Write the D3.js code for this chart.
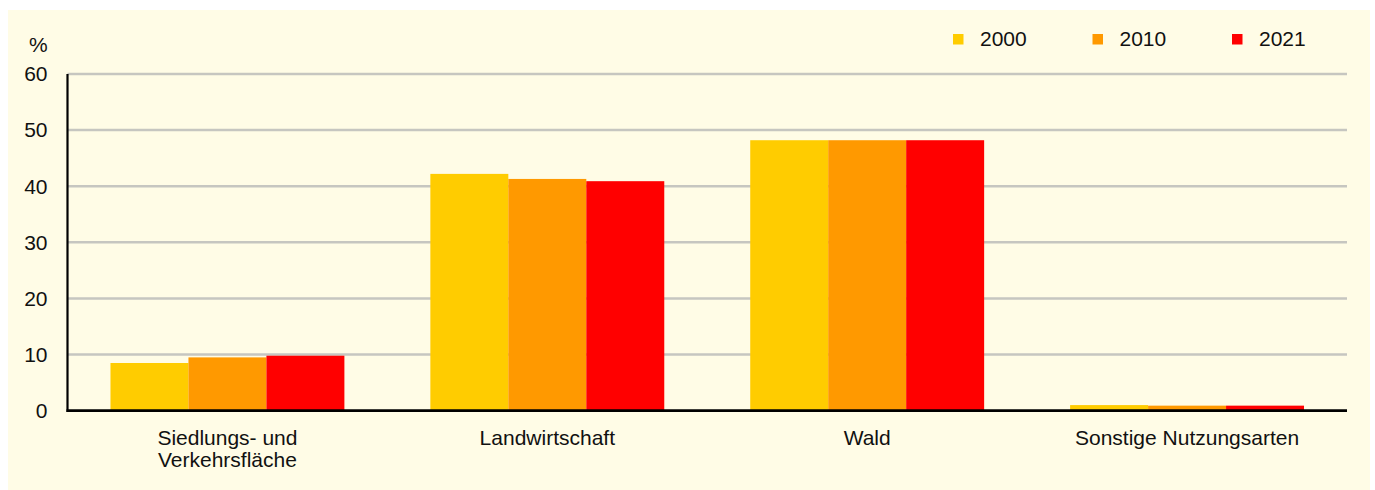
<!DOCTYPE html>
<html>
<head>
    <meta charset="utf-8">
    <script src="https://d3js.org/d3.v7.min.js"></script>
    <style>
        body { margin: 0; background: #ffffff; font-family: "Liberation Sans", Arial, Helvetica, sans-serif; }
        svg text { fill: #111; }
        .grid line { stroke: #c6c6c0; stroke-width: 2.5px; }
    </style>
</head>
<body>
    <svg width="1375" height="490"></svg>
    <script>
        // Data
        let categories = [["Siedlungs- und", "Verkehrsfläche"], ["Landwirtschaft"], ["Wald"], ["Sonstige Nutzungsarten"]];
        let years = ["2000", "2010", "2021"];
        let colors = ["#ffcc00", "#ff9900", "#ff0000"];
        let values2000 = [8.5, 42.2, 48.2, 1.0];
        let values2010 = [9.5, 41.3, 48.2, 0.9];
        let values2021 = [9.8, 40.9, 48.2, 0.9];
        let yTicks = [0, 10, 20, 30, 40, 50, 60];

        let series = [values2000, values2010, values2021];

        let svg = d3.select("svg");
        let plotLeft = 67.5, plotRight = 1347, plotTop = 74, plotBottom = 410.7;

        // background panel
        svg.append("rect")
            .attr("x", 8).attr("y", 10)
            .attr("width", 1362).attr("height", 480)
            .attr("fill", "#fffce6");

        let x0 = d3.scaleBand()
            .domain(d3.range(categories.length))
            .range([plotLeft, plotRight])
            .paddingInner(86 / 320)
            .paddingOuter(43 / 320);
        let x1 = d3.scaleBand()
            .domain(d3.range(years.length))
            .range([0, x0.bandwidth()]);
        let y = d3.scaleLinear().domain([0, 60]).range([plotBottom, plotTop]);

        // gridlines
        svg.append("g").attr("class", "grid")
            .selectAll("line")
            .data(yTicks.filter(d => d > 0))
            .enter().append("line")
            .attr("x1", plotLeft).attr("x2", plotRight)
            .attr("y1", d => y(d)).attr("y2", d => y(d));

        // bars
        series.forEach((vals, s) => {
            svg.append("g").selectAll("rect")
                .data(vals)
                .enter().append("rect")
                .attr("x", (d, i) => x0(i) + x1(s))
                .attr("y", d => y(d))
                .attr("width", x1.bandwidth())
                .attr("height", d => plotBottom - y(d))
                .attr("fill", colors[s]);
        });

        // axes
        svg.append("line")
            .attr("x1", plotLeft).attr("x2", plotLeft)
            .attr("y1", plotTop).attr("y2", plotBottom + 1.3)
            .attr("stroke", "#000").attr("stroke-width", 2.2);
        svg.append("line")
            .attr("x1", plotLeft - 1).attr("x2", plotRight)
            .attr("y1", plotBottom).attr("y2", plotBottom)
            .attr("stroke", "#000").attr("stroke-width", 2.7);

        // y tick labels
        svg.append("g").selectAll("text")
            .data(yTicks)
            .enter().append("text")
            .attr("x", 47.5)
            .attr("y", d => y(d))
            .attr("dy", "0.35em")
            .attr("text-anchor", "end")
            .attr("font-size", 21)
            .text(d => d);

        svg.append("text")
            .attr("x", 29).attr("y", 52)
            .attr("font-size", 21)
            .text("%");

        // category labels
        categories.forEach((lines, i) => {
            let t = svg.append("text")
                .attr("x", x0(i) + x0.bandwidth() / 2)
                .attr("y", 445)
                .attr("text-anchor", "middle")
                .attr("font-size", 21);
            lines.forEach((l, k) => {
                t.append("tspan")
                    .attr("x", x0(i) + x0.bandwidth() / 2)
                    .attr("dy", k === 0 ? 0 : 22)
                    .text(l);
            });
        });

        // legend
        let legend = svg.append("g").selectAll("g")
            .data(years)
            .enter().append("g")
            .attr("transform", (d, i) => "translate(" + (953 + i * 139.5) + ",0)");
        legend.append("rect")
            .attr("x", 0).attr("y", 34)
            .attr("width", 10.5).attr("height", 10.5)
            .attr("fill", (d, i) => colors[i]);
        legend.append("text")
            .attr("x", 27).attr("y", 45.7)
            .attr("font-size", 21)
            .text(d => d);
    </script>
</body>
</html>
